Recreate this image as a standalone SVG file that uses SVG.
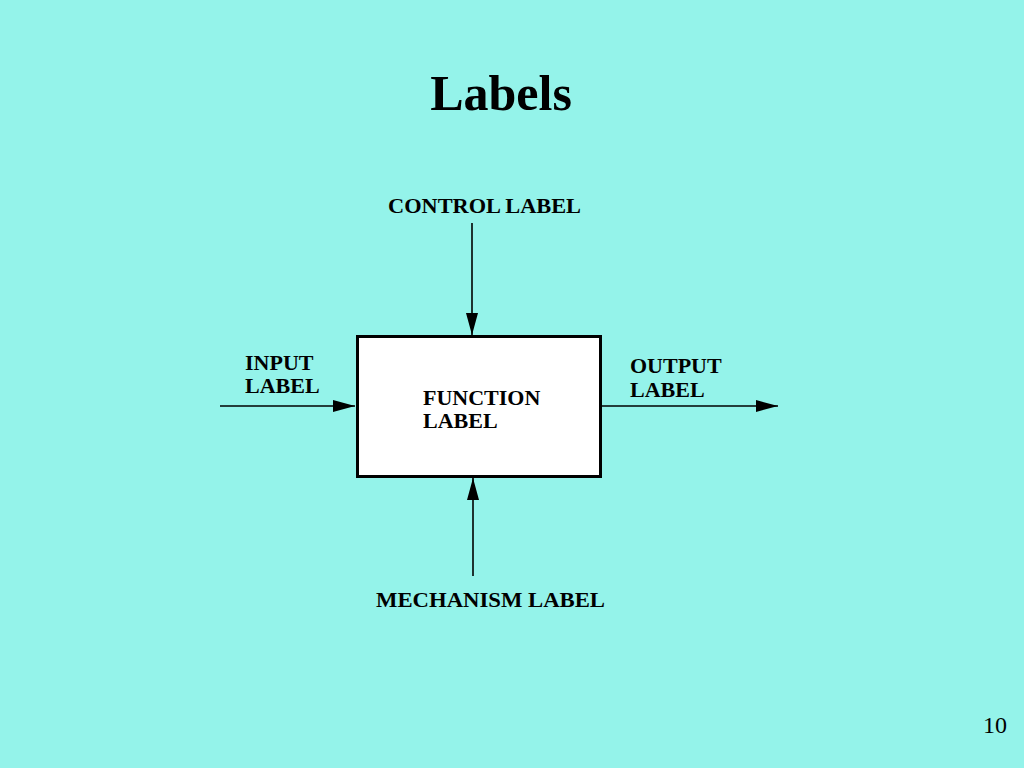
<svg xmlns="http://www.w3.org/2000/svg" width="1024" height="768" viewBox="0 0 1024 768">
<style>
.t{font-family:"Liberation Serif","Times New Roman",serif;font-weight:bold;fill:#000}
.c{stroke:#000;stroke-width:1.6;fill:none}
</style>
<defs>
<marker id="ah" markerWidth="22" markerHeight="12" refX="22" refY="6" orient="auto" markerUnits="userSpaceOnUse">
<path d="M0,0 L22,6 L0,12 Z" fill="#000"/>
</marker>
</defs>
<rect x="0" y="0" width="1024" height="768" fill="#94F3EA"/>
<text class="t" x="501" y="110" font-size="50" text-anchor="middle">Labels</text>
<g id="connectors">
<line class="c" x1="472" y1="223" x2="472" y2="335" marker-end="url(#ah)"/>
<line class="c" x1="473" y1="576" x2="473" y2="478" marker-end="url(#ah)"/>
<line class="c" x1="220" y1="406" x2="355" y2="406" marker-end="url(#ah)"/>
<line class="c" x1="602" y1="406" x2="778" y2="406" marker-end="url(#ah)"/>
</g>
<g id="function">
<rect x="357.5" y="336.5" width="243" height="140" fill="#fff" stroke="#000" stroke-width="3"/>
<text class="t" x="423" y="405" font-size="22">FUNCTION</text>
<text class="t" x="423" y="428" font-size="22">LABEL</text>
</g>
<g id="control">
<text class="t" x="484.5" y="213" font-size="22" text-anchor="middle" textLength="193" lengthAdjust="spacingAndGlyphs">CONTROL LABEL</text>
</g>
<g id="mechanism">
<text class="t" x="490.5" y="607" font-size="22" text-anchor="middle" textLength="229" lengthAdjust="spacingAndGlyphs">MECHANISM LABEL</text>
</g>
<g id="input">
<text class="t" x="245" y="370" font-size="22">INPUT</text>
<text class="t" x="245" y="393" font-size="22">LABEL</text>
</g>
<g id="output">
<text class="t" x="630" y="373" font-size="22">OUTPUT</text>
<text class="t" x="630" y="397" font-size="22">LABEL</text>
</g>
<text x="995" y="733" font-size="24" text-anchor="middle" font-family="'Liberation Serif','Times New Roman',serif" fill="#000">10</text>
</svg>
